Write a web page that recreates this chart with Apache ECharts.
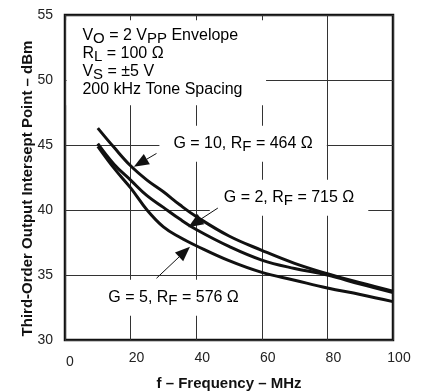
<!DOCTYPE html>
<html>
<head>
<meta charset="utf-8">
<script src="https://cdn.jsdelivr.net/npm/echarts@6/dist/echarts.min.js"></script>
<style>
  html, body { margin: 0; padding: 0; background: #fff; }
  #chart { width: 422px; height: 392px; }
</style>
</head>
<body>
<div id="chart"></div>
<script>
// 频率 (MHz) 与三条曲线 (dBm)
const freq = [10, 15, 20, 25, 30, 35, 40, 50, 60, 70, 80, 90, 100];
const g10 = [46.3, 44.8, 43.4, 42.3, 41.4, 40.4, 39.5, 38.0, 36.9, 35.9, 35.1, 34.4, 33.75];
const g2  = [45.1, 43.5, 42.3, 41.1, 40.2, 39.3, 38.5, 37.2, 36.15, 35.5, 35.0, 34.3, 33.65];
const g5  = [44.9, 43.2, 41.7, 40.0, 38.7, 37.9, 37.25, 36.1, 35.2, 34.6, 34.0, 33.5, 32.95];

const xTicks = [0, 20, 40, 60, 80, 100];
const yTicks = [30, 35, 40, 45, 50, 55];

const FONT = '"Liberation Sans", Arial, Helvetica, sans-serif';

// 标注（数据坐标）
const notes = [
    { text: '{n|G = 10, R}{s|F}{n| = 464 Ω}', at: [54.3, 45.1], tail: [27.9, 44.35], tip: [21.0, 43.33] },
    { text: '{n|G = 2, R}{s|F}{n| = 715 Ω}',  at: [68.3, 40.95], tail: [46.6, 40.15], tip: [37.6, 38.67] },
    { text: '{n|G = 5, R}{s|F}{n| = 576 Ω}',  at: [33.1, 33.25], tail: [27.9, 34.75], tip: [38.1, 37.18] }
];

const condLines = [
    '{n|V}{s|O}{n| = 2 V}{s|PP}{n| Envelope}',
    '{n|R}{s|L}{n| = 100 Ω}',
    '{n|V}{s|S}{n| = ±5 V}',
    '{n|200 kHz Tone Spacing}'
];

const richText = {
    n: { fontSize: 16, fontFamily: FONT, color: '#111' },
    s: { fontSize: 15, fontFamily: FONT, color: '#111', padding: [7, 0, 0, 0] }
};

function pairs(ys) {
    return freq.map((f, i) => [f, ys[i]]);
}

const chart = echarts.init(document.getElementById('chart'));

const lineStyle = { width: 3, color: '#111' };

chart.setOption({
    animation: false,
    grid: {
        left: 65, right: 29, top: 15, bottom: 52, outerBoundsMode: 'none',
        show: true, borderColor: '#111', borderWidth: 2.5, backgroundColor: 'transparent'
    },
    xAxis: {
        type: 'value', min: 0, max: 100, interval: 20,
        name: 'f – Frequency – MHz', nameLocation: 'middle', nameGap: 36, nameMoveOverlap: false,
        nameTextStyle: { fontFamily: FONT, fontSize: 15, fontWeight: 'bold', color: '#111' },
        axisLine: { show: false }, axisTick: { show: false },
        splitLine: { show: true, lineStyle: { color: '#333', width: 1 } },
        axisLabel: {
            margin: 11, color: '#222', fontFamily: FONT, fontSize: 14,
            formatter: v => v === 0 ? '{z|0}' : '{a|' + v + '}',
            rich: {
                a: { fontSize: 14, fontFamily: FONT, color: '#222', padding: [0, 0, 0, 12] },
                z: { fontSize: 14, fontFamily: FONT, color: '#222', padding: [4, 0, 0, 10] }
            }
        }
    },
    yAxis: {
        type: 'value', min: 30, max: 55, interval: 5,
        name: 'Third-Order Output Intersept Point – dBm', nameLocation: 'middle', nameGap: 30, nameMoveOverlap: false,
        nameTextStyle: { fontFamily: FONT, fontSize: 15, fontWeight: 'bold', color: '#111', padding: [0, 22, 0, 0] },
        axisLine: { show: false }, axisTick: { show: false },
        splitLine: { show: true, lineStyle: { color: '#333', width: 1 } },
        axisLabel: { margin: 12, color: '#222', fontFamily: FONT, fontSize: 14 }
    },
    series: [
        { name: 'G=10', type: 'line', data: pairs(g10), smooth: 0.4, showSymbol: false, lineStyle: lineStyle, z: 3 },
        { name: 'G=2',  type: 'line', data: pairs(g2),  smooth: 0.4, showSymbol: false, lineStyle: lineStyle, z: 3 },
        { name: 'G=5',  type: 'line', data: pairs(g5),  smooth: 0.4, showSymbol: false, lineStyle: lineStyle, z: 3 }
    ]
});

// 标注和箭头
function px(p) { return chart.convertToPixel({ gridIndex: 0 }, p); }

const graphics = [];

// 左上角条件框
const boxTL = px([0.5, 54.6]);
const boxBR = px([61.3, 48.05]);
graphics.push({
    type: 'rect', z: 1,
    shape: { x: boxTL[0], y: boxTL[1], width: boxBR[0] - boxTL[0], height: boxBR[1] - boxTL[1] },
    style: { fill: '#fff' }
});
const textOrigin = px([5.3, 53.45]);
condLines.forEach((t, i) => {
    graphics.push({
        type: 'text', z: 6,
        x: textOrigin[0], y: textOrigin[1] + i * 18.3,
        style: { text: t, rich: richText, align: 'left', verticalAlign: 'middle' }
    });
});

notes.forEach(nt => {
    const c = px(nt.at);
    graphics.push({
        type: 'text', z: 1,
        x: c[0], y: c[1],
        style: {
            text: nt.text, rich: richText, align: 'center', verticalAlign: 'middle',
            backgroundColor: '#fff', padding: [7, 14, 7, 14]
        }
    });
    const a = px(nt.tail), b = px(nt.tip);
    const dx = b[0] - a[0], dy = b[1] - a[1];
    const len = Math.sqrt(dx * dx + dy * dy);
    const ux = dx / len, uy = dy / len;
    const headLen = 15, headW = 6;
    const bx = b[0] - ux * headLen, by = b[1] - uy * headLen;
    graphics.push({
        type: 'line', z: 6,
        shape: { x1: a[0], y1: a[1], x2: bx, y2: by },
        style: { stroke: '#111', lineWidth: 1 }
    });
    graphics.push({
        type: 'polygon', z: 6,
        shape: { points: [b, [bx - uy * headW, by + ux * headW], [bx + uy * headW, by - ux * headW]] },
        style: { fill: '#111' }
    });
});

chart.setOption({ graphic: graphics });
</script>
</body>
</html>
